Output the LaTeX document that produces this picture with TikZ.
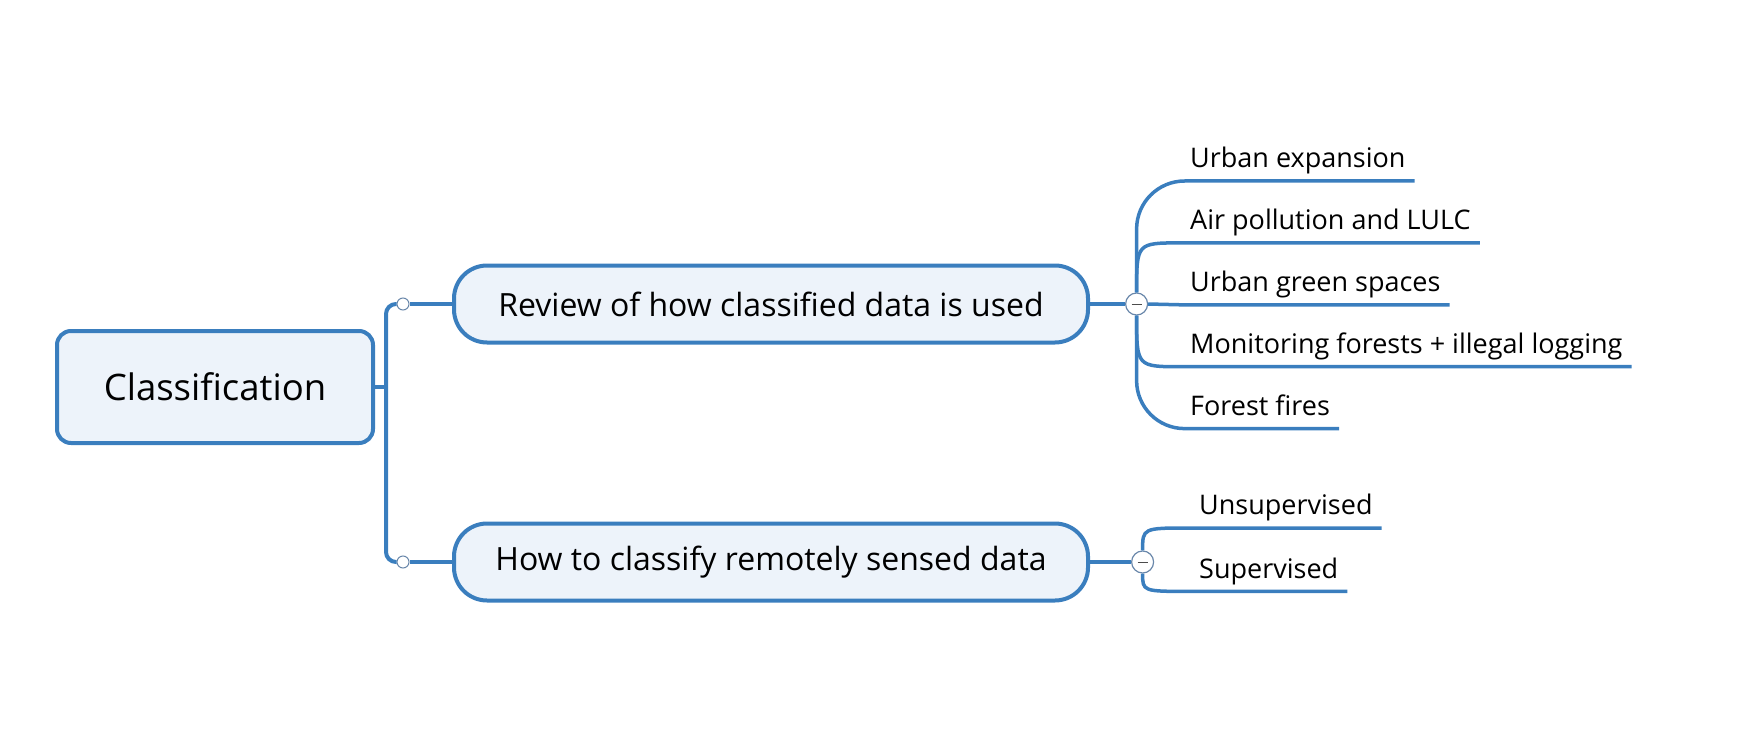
\documentclass[tikz,border=0pt]{standalone}
\usepackage{fontspec}
\setmainfont{Open Sans}
\usetikzlibrary{positioning, calc}
\definecolor{mapblue}{RGB}{58,126,190}
\definecolor{mapfill}{RGB}{237,243,250}
\definecolor{knobline}{RGB}{105,135,170}
\tikzstyle{rootnode}=[rectangle, draw=mapblue, fill=mapfill, line width=4pt,
                      rounded corners=14pt, minimum width=316pt, minimum height=112pt,
                      font=\fontsize{36.5}{42}\selectfont]
\tikzstyle{topic}=[rectangle, draw=mapblue, fill=mapfill, line width=4pt,
                   rounded corners=33pt, minimum width=634pt, minimum height=77pt,
                   font=\fontsize{32}{38}\selectfont]
\tikzstyle{leaf}=[inner xsep=9pt, inner ysep=7pt, text height=20pt, text depth=6pt,
                  anchor=south west, font=\fontsize{27}{32}\selectfont]
\tikzstyle{link}=[draw=mapblue, line width=4pt]
\tikzstyle{twig}=[draw=mapblue, line width=3.5pt]
\tikzstyle{knob}=[circle, draw=knobline, fill=white, line width=1pt, minimum size=12pt, inner sep=0pt]
\tikzstyle{fold}=[circle, draw=knobline, fill=white, line width=1.2pt, minimum size=22pt, inner sep=0pt]

\begin{document}
\begin{tikzpicture}[x=1pt, y=-1pt]
  \useasboundingbox (0,0) rectangle (1750,754);

  % central topic and trunk
  \node[rootnode] (root) at (215,387) {Classification};
  \coordinate (trunk) at (386,387);
  \node[knob] (k1) at (403,304) {};
  \node[knob] (k2) at (403,562) {};

  % main topics
  \node[topic, right = 49pt of k1.center] (b1) {Review of how classified data is used};
  \node[topic, right = 49pt of k2.center] (b2) {How to classify remotely sensed data};

  % fold buttons
  \node[fold, right = 35pt of b1.east] (c1) {};
  \node[fold, right = 41pt of b2.east] (c2) {};

  % leaves of the first topic
  \node[leaf] (a1) at (1181,181) {Urban expansion};
  \node[leaf, below = 21.5pt of a1.south west, anchor=north west] (a2) {Air pollution and LULC};
  \node[leaf, below = 21.5pt of a2.south west, anchor=north west] (a3) {Urban green spaces};
  \node[leaf, below = 21.5pt of a3.south west, anchor=north west] (a4) {Monitoring forests + illegal logging};
  \node[leaf, below = 21.5pt of a4.south west, anchor=north west] (a5) {Forest fires};

  % leaves of the second topic
  \node[leaf] (s1) at (1190,528) {Unsupervised};
  \node[leaf, below = 23pt of s1.south west, anchor=north west] (s2) {Supervised};

  \path[link] (root.east) -- (trunk);
  \path[link, rounded corners=10pt] (trunk) |- (k1.west);
  \path[link, rounded corners=10pt] (trunk) |- (k2.west);
  \path[link] (k1.east) -- (b1.west);
  \path[link] (k2.east) -- (b2.west);

  \path[twig] (b1.east) -- (c1.west);
  \path[twig, rounded corners=48pt] (c1.north) |- (a1.south east);
  \path[twig] (c1.north) .. controls (c1 |- a2.south west) .. (a2.south west) -- (a2.south east);
  \path[twig] (c1.east) -- (a3.south west) -- (a3.south east);
  \path[twig] (c1.south) .. controls (c1 |- a4.south west) .. (a4.south west) -- (a4.south east);
  \path[twig, rounded corners=48pt] (c1.south) |- (a5.south east);

  \path[twig] (b2.east) -- (c2.west);
  \path[twig] (c2.north) .. controls (c2 |- s1.south west) .. (s1.south west) -- (s1.south east);
  \path[twig] (c2.south) .. controls (c2 |- s2.south west) .. (s2.south west) -- (s2.south east);

  % minus marks
  \draw[line width=1pt, black!70] (c1.center) +(-5,0) -- +(5,0);
  \draw[line width=1pt, black!70] (c2.center) +(-5,0) -- +(5,0);
\end{tikzpicture}
\end{document}
